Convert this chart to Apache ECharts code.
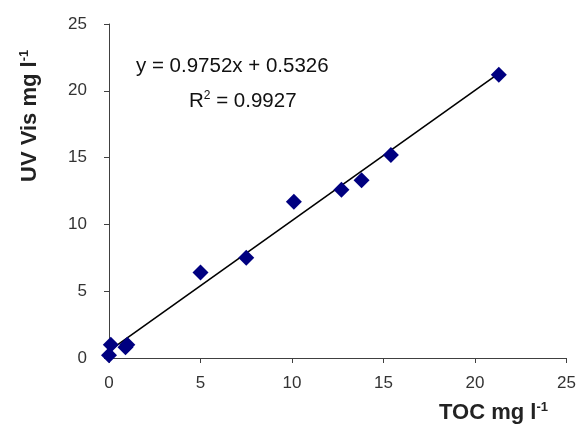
<!DOCTYPE html>
<html>
<head>
<meta charset="utf-8">
<script src="https://cdn.jsdelivr.net/npm/echarts@6/dist/echarts.min.js"></script>
<style>
  html, body { margin: 0; padding: 0; background: #fff; }
  #plot { width: 579px; height: 435px; }
</style>
</head>
<body>
<div id="plot"></div>
<script>
// TOC (x) vs UV Vis (y), mg/l
var tocVals = [0, 0.1, 0.9, 1.0, 5.0, 7.5, 10.1, 12.7, 13.8, 15.4, 21.3];
var uvVals = [0.2, 1.0, 0.8, 1.0, 6.4, 7.5, 11.7, 12.6, 13.3, 15.2, 21.2];
var axisTicks = [0, 5, 10, 15, 20, 25];

// linear trendline as printed on the chart
var slope = 0.9752;
var intercept = 0.5326;
var fitRange = [0, 21.3];

var points = tocVals.map(function (x, i) { return [x, uvVals[i]]; });
var fitLine = fitRange.map(function (x) { return [x, slope * x + intercept]; });

var myPlot = echarts.init(document.getElementById('plot'));

var axisCommon = {
    type: 'value',
    min: axisTicks[0],
    max: axisTicks[axisTicks.length - 1],
    interval: 5,
    splitLine: { show: false },
    axisLine: { show: true, onZero: false, lineStyle: { color: '#404040', width: 1 } },
    axisTick: { show: true, inside: false, length: 5, lineStyle: { color: '#404040' } },
    axisLabel: { color: '#333', fontSize: 17, fontFamily: 'Liberation Sans, Arial, sans-serif' }
};

var supRich = {
    b: { fontSize: 22, fontWeight: 'bold', fontFamily: 'Liberation Sans, Arial, sans-serif', fill: '#222' },
    sup: { fontSize: 13, fontWeight: 'bold', fontFamily: 'Liberation Sans, Arial, sans-serif', fill: '#222', padding: [0, 0, 11, 0] }
};

option = {
    animation: false,
    backgroundColor: '#fff',
    grid: { left: 109, right: 12, top: 24, bottom: 77 },
    xAxis: echarts.util.merge({ axisLabel: { margin: 17 } }, axisCommon, true),
    yAxis: echarts.util.merge({ axisLabel: { margin: 22 } }, axisCommon, true),
    series: [
        {
            type: 'line',
            data: fitLine,
            symbol: 'none',
            lineStyle: { color: '#000', width: 1.6 },
            z: 2
        },
        {
            type: 'scatter',
            data: points,
            symbol: 'diamond',
            symbolSize: 16,
            itemStyle: { color: '#000080', opacity: 1 },
            z: 3
        }
    ],
    graphic: [
        {
            type: 'text',
            left: 136, top: 56,
            style: { text: 'y = 0.9752x + 0.5326', fontSize: 20.5, fontFamily: 'Liberation Sans, Arial, sans-serif', fill: '#111' }
        },
        {
            type: 'text',
            left: 189, top: 90,
            style: {
                text: '{t|R}{s|2}{t| = 0.9927}',
                rich: {
                    t: { fontSize: 20.5, fontFamily: 'Liberation Sans, Arial, sans-serif', fill: '#111' },
                    s: { fontSize: 12, fontFamily: 'Liberation Sans, Arial, sans-serif', fill: '#111', padding: [0, 0, 10, 0] }
                }
            }
        },
        {
            type: 'text',
            x: 439, y: 401,
            style: { text: '{b|TOC mg l}{sup|-1}', rich: supRich }
        },
        {
            type: 'text',
            x: 18, y: 182,
            rotation: Math.PI / 2,
            style: { text: '{b|UV Vis mg l}{sup|-1}', rich: supRich }
        }
    ]
};

option && myPlot.setOption(option);
</script>
</body>
</html>
